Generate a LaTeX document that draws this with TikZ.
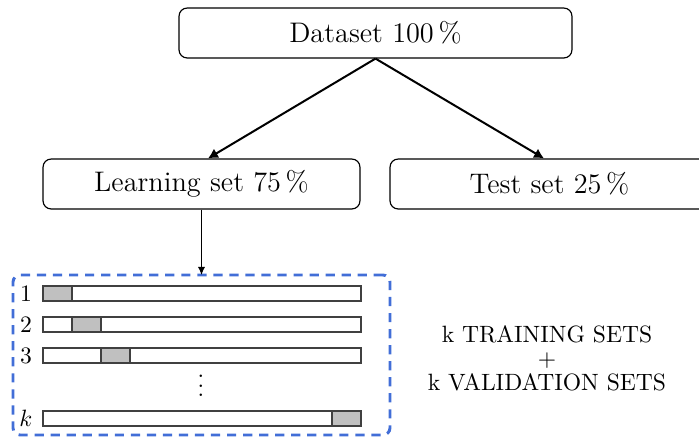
\documentclass[tikz,border=0pt]{standalone}
\usetikzlibrary{arrows.meta,calc}
\definecolor{foldblue}{RGB}{66,110,215}
\definecolor{splitgray}{RGB}{192,192,192}
\begin{document}
\begin{tikzpicture}[x=0.424pt,y=-0.424pt,
  box/.style={draw, rounded corners=3.5pt, inner sep=0pt, font=\large, line width=0.5pt, minimum height={50*0.424pt}},
  splitarrow/.style={-{Latex[length=4.2pt,width=4.6pt]}, line width=0.85pt},
  foldarrow/.style={-{Latex[length=3.4pt,width=3pt]}, line width=0.45pt},
  foldbox/.style={draw=foldblue, line width=1.25pt, dash pattern=on 3.9pt off 2.9pt, rounded corners=3pt, inner sep=0pt, outer sep=0pt},
  bar/.style={draw=black!75, line width=0.5pt},
  rowlabel/.style={anchor=base, inner sep=0pt}
]
\useasboundingbox (0,0) rectangle (699,439);

\node[box, minimum width={393*0.424pt}] (data) at (375.5,33) {Dataset 100\,\%};
\node[box, minimum width={317*0.424pt}] (learn) at (201.5,184) {Learning set 75\,\%};
\node[box, minimum width={319*0.424pt}] (test) at (549.5,184) {Test set 25\,\%};

\draw[splitarrow] (data.south) -- ($(learn.north)+(6.5,0)$);
\draw[splitarrow] (data.south) -- ($(test.north)+(-5.5,0)$);

\node[foldbox, minimum width={377*0.424pt}, minimum height={160*0.424pt}] (folds) at (201.5,355) {};
\draw[foldarrow] (learn.south) -- (folds.north);

\foreach \yy/\gg in {286/43, 317/72, 348/101, 411/332} {
  \fill[splitgray] (\gg,\yy) rectangle ++(29,15);
  \draw[bar] (43,\yy) rectangle (361,\yy+15);
  \draw[bar] (\gg,\yy) rectangle ++(29,15);
}
\node[rowlabel] (l1) at (26,301) {1};
\node[rowlabel] (l2) at (26,332) {2};
\node[rowlabel] (l3) at (26,363) {3};
\node[rowlabel] (lk) at (26,426) {$k$};
\node (dots) at (201,379) {$\vdots$};

\node[anchor=north, align=center, inner sep=0pt] (sets) at (547,325.6)
  {k TRAINING SETS\\[-2pt]$+$\\[-2pt]k VALIDATION SETS};
\end{tikzpicture}
\end{document}
